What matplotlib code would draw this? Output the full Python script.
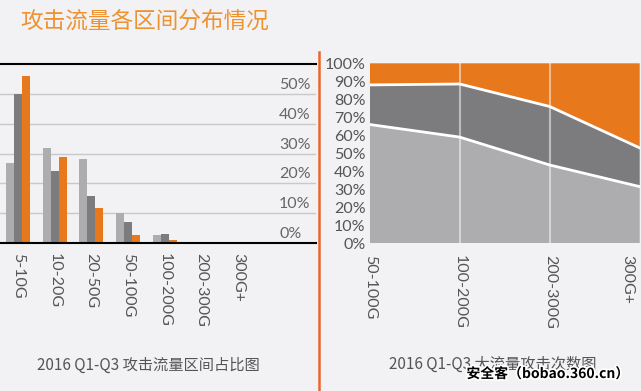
import matplotlib.pyplot as plt
import matplotlib.patheffects as pe
import matplotlib.transforms as mtrans
from matplotlib.lines import Line2D
import numpy as np

plt.rcParams['font.family'] = ['Lato', 'Noto Sans CJK SC', 'DejaVu Sans']

# left chart: share of attacks per traffic range (%)
ranges_all = ['5-10G', '10-20G', '20-50G', '50-100G', '100-200G', '200-300G', '300G+']
share_light = [26.9, 31.9, 28.2, 9.9, 2.8, 0, 0]
share_dark = [49.9, 24.2, 15.7, 7.2, 3.0, 0, 0]
share_orange = [56.0, 28.8, 11.7, 2.8, 0.9, 0, 0]

# right chart: big-traffic attack counts, stacked to 100%
ranges_big = ['50-100G', '100-200G', '200-300G', '300G+']
big_light = [66, 59, 43.5, 31.5]
big_dark = [22, 29.5, 32.5, 21.5]
big_orange = [12, 11.5, 24, 47]

bg = '#f2f1f3'
c_light = '#adacae'
c_dark = '#7c7b7d'
c_orange = '#e8781c'
txt = '#555555'

fig = plt.figure(figsize=(6.41, 3.91), dpi=100)
fig.patch.set_facecolor(bg)

fig.text(20/641, 1 - 21/391, '攻击流量各区间分布情况', fontsize=16.3, color='#ee9230',
         va='center', ha='left', family=['Noto Sans CJK SC', 'DejaVu Sans'])

# ---- left bars
ax1 = fig.add_axes([0, 0.3785, 0.493, 0.4578])
ax1.set_facecolor(bg)
x = np.arange(len(ranges_all))
w = 0.218
ax1.bar(x - w, share_light, width=w, color=c_light, zorder=2)
ax1.bar(x, share_dark, width=w, color=c_dark, zorder=2)
ax1.bar(x + w, share_orange, width=w, color=c_orange, zorder=2)
ax1.set_xlim(-0.49, 8.12)
ax1.set_ylim(0, 60)
ax1.set_yticks([10, 20, 30, 40, 50])
ax1.set_yticklabels([])
ax1.yaxis.grid(True, color='#c9c8ca', lw=1)
ax1.set_axisbelow(True)
ax1.tick_params(axis='y', length=0)
for v in [0, 10, 20, 30, 40, 50]:
    ax1.text(279/316, v + 3, f'{v}%', transform=ax1.get_yaxis_transform(),
             ha='left', va='center', fontsize=11.5, color='#666666')
ax1.set_xticks(x)
ax1.set_xticklabels(ranges_all, rotation=-90, va='top', ha='center', fontsize=11.5, color=txt)
ax1.tick_params(axis='x', length=0, pad=7)
for s in ['left', 'right']:
    ax1.spines[s].set_visible(False)
for s in ['top', 'bottom']:
    ax1.spines[s].set_color('black')
    ax1.spines[s].set_linewidth(1.5)

fig.text(148/641, 1 - 365/391, '2016 Q1-Q3 攻击流量区间占比图', ha='center', va='center',
         fontsize=11, color=txt, family=['Noto Sans CJK SC', 'DejaVu Sans'])

# divider
fig.add_artist(Line2D([0.4981, 0.4981], [0, 0.867], color='#e9662c', lw=1.8))

# ---- right stacked area
ax2 = fig.add_axes([0.5768, 0.3777, 0.4212, 0.4604])
ax2.set_facecolor(bg)
xr = np.arange(len(ranges_big))
ax2.stackplot(xr, big_light, big_dark, big_orange, colors=[c_light, c_dark, c_orange], lw=0)
for xv in [1, 2]:
    ax2.axvline(xv, color='white', alpha=0.5, lw=1.5)
lo = np.array(big_light)
mid = lo + np.array(big_dark)
ax2.plot(xr, lo, color='white', lw=2)
ax2.plot(xr, mid, color='white', lw=2)
ax2.set_xlim(0, 3)
ax2.set_ylim(0, 100)
ax2.set_yticks(range(0, 101, 10))
ax2.set_yticklabels([f'{v}%' for v in range(0, 101, 10)], fontsize=11.5, color=txt)
ax2.tick_params(axis='y', length=0, pad=3)
ax2.set_xticks(xr)
ax2.set_xticklabels(ranges_big, rotation=-90, va='top', ha='center', fontsize=11.5, color=txt)
ax2.tick_params(axis='x', length=0, pad=8.5)
# last label pulled inside the figure, as in the original
last = ax2.get_xticklabels()[-1]
last.set_transform(last.get_transform() + mtrans.ScaledTranslation(-0.12, 0, fig.dpi_scale_trans))
for s in ax2.spines.values():
    s.set_visible(False)

fig.text(493/641, 1 - 364/391, '2016 Q1-Q3 大流量攻击次数图', ha='center', va='center',
         fontsize=11, color=txt, family=['Noto Sans CJK SC', 'DejaVu Sans'])
fig.text(548/641, 1 - 374/391, '安全客（bobao.360.cn）', ha='center', va='center',
         fontsize=10, color='black', fontweight='bold',
         family=['Noto Sans CJK SC', 'DejaVu Sans'],
         path_effects=[pe.withStroke(linewidth=2.5, foreground='white')])

fig.savefig('out.png', dpi=100, facecolor=bg)
